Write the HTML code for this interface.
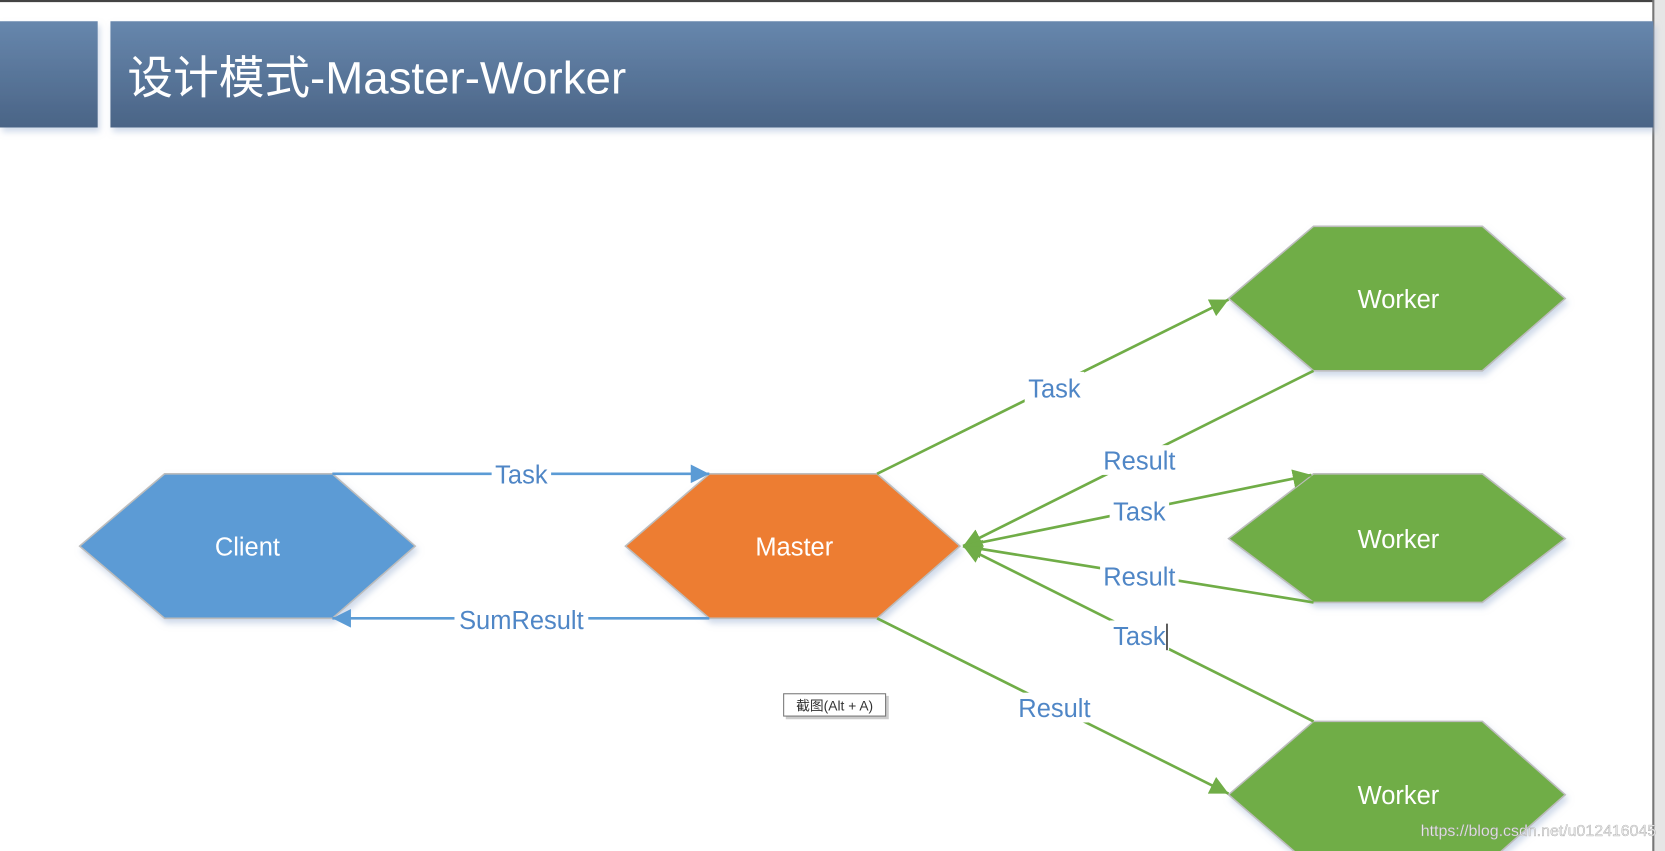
<!DOCTYPE html>
<html><head><meta charset="utf-8"><style>
html,body{margin:0;padding:0;background:#fff;overflow:hidden}
svg{display:block}
</style></head><body>
<svg width="1665" height="851" viewBox="0 0 1568 801" preserveAspectRatio="none" xmlns="http://www.w3.org/2000/svg" font-family="'Liberation Sans','Noto Sans CJK SC',sans-serif">
<defs>
<linearGradient id="hg" x1="0" y1="0" x2="0" y2="1">
<stop offset="0" stop-color="#6787ad"/><stop offset="1" stop-color="#4a6486"/>
</linearGradient>
<filter id="sh" x="-10%" y="-10%" width="130%" height="130%"><feDropShadow dx="2" dy="4" stdDeviation="3" flood-color="#9fb4d4" flood-opacity="0.5"/></filter>
<marker id="ab" viewBox="0 0 10 10" refX="10" refY="5" markerWidth="7" markerHeight="7" orient="auto" markerUnits="strokeWidth"><path d="M0,0L10,5L0,10z" fill="#5b9bd5"/></marker>
<marker id="ag" viewBox="0 0 10 10" refX="10" refY="5" markerWidth="7" markerHeight="7" orient="auto" markerUnits="strokeWidth"><path d="M0,0L10,5L0,10z" fill="#70ad47"/></marker>
</defs>
<rect width="1568" height="801" fill="#fff"/>
<rect x="0" y="0" width="1568" height="2" fill="#444"/>
<rect x="1557" y="0" width="11" height="801" fill="#e6e6e6"/>
<rect x="1556" y="0" width="2" height="801" fill="#777"/>
<rect x="0" y="20" width="92" height="100" fill="url(#hg)" filter="url(#sh)"/>
<rect x="104" y="20" width="1453" height="100" fill="url(#hg)" filter="url(#sh)"/>
<text x="120" y="88" font-size="43" fill="#fff">设计模式-Master-Worker</text>

<g stroke="#bdbdbd" stroke-width="1.5" filter="url(#sh)">
<polygon points="75,514 155,446 313,446 391,514 313,582 155,582" fill="#5b9bd5"/>
<polygon points="589,514 668,446 826,446 904,514 826,582 668,582" fill="#ed7d31"/>
<polygon points="1157,281 1237,213 1396,213 1474,281 1396,349 1237,349" fill="#70ad47"/>
<polygon points="1157,507 1237,446 1396,446 1474,507 1396,567 1237,567" fill="#70ad47"/>
<polygon points="1157,748 1237,679 1396,679 1474,748 1396,817 1237,817" fill="#70ad47"/>
</g>

<g stroke="#5b9bd5" stroke-width="2.5" fill="none">
<line x1="313" y1="446" x2="668" y2="446" marker-end="url(#ab)"/>
<line x1="668" y1="582" x2="313" y2="582" marker-end="url(#ab)"/>
</g>
<g stroke="#70ad47" stroke-width="2.5" fill="none">
<line x1="826" y1="446" x2="1157" y2="282" marker-end="url(#ag)"/>
<line x1="1237" y1="349" x2="907" y2="514" marker-end="url(#ag)"/>
<line x1="907" y1="514" x2="1235" y2="447" marker-end="url(#ag)"/>
<line x1="1237" y1="567" x2="907" y2="514" marker-end="url(#ag)"/>
<line x1="1237" y1="679" x2="907" y2="514" marker-end="url(#ag)"/>
<line x1="826" y1="582" x2="1157" y2="747" marker-end="url(#ag)"/>
</g>

<g font-size="24" fill="#4f86c6" text-anchor="middle" font-family="'Liberation Sans',sans-serif">
<rect x="463" y="432" width="56" height="28" fill="#fff"/><text x="491" y="455">Task</text>
<rect x="428" y="568" width="126" height="28" fill="#fff"/><text x="491" y="592">SumResult</text>
<rect x="965" y="350" width="56" height="30" fill="#fff"/><text x="993" y="374">Task</text>
<rect x="1036" y="419" width="74" height="28" fill="#fff"/><text x="1073" y="442">Result</text>
<rect x="1045" y="467" width="56" height="28" fill="#fff"/><text x="1073" y="490">Task</text>
<rect x="1036" y="528" width="74" height="28" fill="#fff"/><text x="1073" y="551">Result</text>
<rect x="1045" y="584" width="56" height="28" fill="#fff"/><text x="1073" y="607">Task</text>
<rect x="956" y="652" width="74" height="28" fill="#fff"/><text x="993" y="675">Result</text>
</g>
<line x1="1099" y1="587" x2="1099" y2="612" stroke="#000" stroke-width="1.2"/>

<g font-size="24" fill="#fff" text-anchor="middle" font-family="'Liberation Sans',sans-serif">
<text x="233" y="523">Client</text>
<text x="748" y="523">Master</text>
<text x="1317" y="290">Worker</text>
<text x="1317" y="516">Worker</text>
<text x="1317" y="757">Worker</text>
</g>

<rect x="740" y="655" width="97" height="22" fill="#ccc"/>
<rect x="738" y="653" width="96" height="21" fill="#fff" stroke="#777" stroke-width="1"/>
<text x="786" y="669" font-size="13" fill="#333" text-anchor="middle">截图(Alt + A)</text>

<text x="1338" y="787" font-size="15" fill="#e8e8e8" stroke="#999" stroke-width="0.3">https://blog.csdn.net/u012416045</text>
</svg>
</body></html>
